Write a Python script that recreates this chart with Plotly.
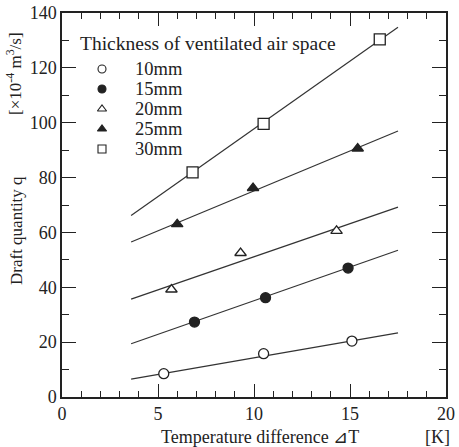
import plotly.graph_objects as go

series_names = ["10mm", "15mm", "20mm", "25mm", "30mm"]
pts_x = [
    [5.3, 10.5, 15.1],
    [6.9, 10.6, 14.9],
    [5.7, 9.3, 14.3],
    [6.0, 9.95, 15.4],
    [6.8, 10.5, 16.55],
]
pts_y = [
    [8.5, 15.8, 20.4],
    [27.3, 36.2, 47.0],
    [39.2, 52.5, 60.6],
    [63.0, 76.2, 90.6],
    [81.9, 99.6, 130.4],
]
line_x = [3.6, 17.5]
line_y = [
    [6.5, 23.4],
    [19.4, 53.5],
    [35.7, 69.2],
    [56.5, 97.0],
    [66.2, 134.8],
]
symbols = ["circle-open", "circle", "triangle-up-open", "triangle-up", "square-open"]
legend_title = "Thickness of ventilated air space"
x_ticks = [0, 5, 10, 15, 20]
y_ticks = [0, 20, 40, 60, 80, 100, 120, 140]

INK = "#222222"
FONT = "Liberation Serif, Times New Roman, serif"

W, H = 459, 447
PL, PR, PT, PB = 62, 446, 13, 397  # plot box in page pixels


def px(x):
    return (x - PL) / (PR - PL)


def py(y):
    return (PB - y) / (PB - PT)


def fill_of(sym):
    return "white" if "open" in sym else INK


def solid(sym):
    return sym.replace("-open", "")


fig = go.Figure()
for i, name in enumerate(series_names):
    fig.add_trace(go.Scatter(x=line_x, y=line_y[i], mode="lines",
                             line=dict(color="#333333", width=1.2),
                             showlegend=False, hoverinfo="skip"))
for i, name in enumerate(series_names):
    sym = symbols[i]
    fig.add_trace(go.Scatter(
        x=pts_x[i], y=pts_y[i], mode="markers", name=name, showlegend=False,
        marker=dict(symbol=solid(sym), size=11 if "square" in sym else 10,
                    color=fill_of(sym), line=dict(color=INK, width=1.3)),
    ))

# hand-made legend on an overlay axis measured in page pixels
row_y = [69 + 20 * i for i in range(len(series_names))]
sym_x = 102
text_x = 133
for i, name in enumerate(series_names):
    sym = symbols[i]
    fig.add_trace(go.Scatter(
        x=[sym_x], y=[row_y[i]], xaxis="x2", yaxis="y2", mode="markers",
        showlegend=False, hoverinfo="skip",
        marker=dict(symbol=solid(sym), size=8,
                    color=fill_of(sym), line=dict(color=INK, width=1.1)),
    ))

annotations = [
    dict(text=legend_title, xref="paper", yref="paper", x=px(78), y=py(43),
         xanchor="left", yanchor="middle", showarrow=False, font=dict(size=19.5)),
]
for i, name in enumerate(series_names):
    annotations.append(dict(text=name, xref="paper", yref="paper",
                            x=px(text_x), y=py(row_y[i]),
                            xanchor="left", yanchor="middle", showarrow=False,
                            font=dict(size=18.5)))
annotations += [
    dict(text="Temperature difference ⊿T", xref="paper", yref="paper",
         x=px(260), y=py(437), xanchor="center", yanchor="middle", showarrow=False,
         font=dict(size=18)),
    dict(text="[K]", xref="paper", yref="paper",
         x=px(437), y=py(437), xanchor="center", yanchor="middle", showarrow=False,
         font=dict(size=18)),
    dict(text="Draft quantity q", xref="paper", yref="paper",
         x=px(17), y=py(231), xanchor="center", yanchor="middle", showarrow=False,
         textangle=-90, font=dict(size=17)),
    dict(text="[×10<sup>-4</sup> m<sup>3</sup>/s]", xref="paper", yref="paper",
         x=px(14), y=py(74), xanchor="center", yanchor="middle", showarrow=False,
         textangle=-90, font=dict(size=17)),
]

fig.update_layout(
    width=W, height=H,
    margin=dict(l=PL, r=W - PR, t=PT, b=H - PB),
    paper_bgcolor="white", plot_bgcolor="white",
    font=dict(family=FONT, color=INK, size=17),
    showlegend=False,
    xaxis=dict(range=[0, 20], tickvals=x_ticks, ticks="inside", ticklen=13,
               tickwidth=1.2, tickcolor=INK, showline=True, linecolor=INK,
               linewidth=1.5, mirror="ticks", showgrid=False, zeroline=False,
               automargin=False, ticklabeloverflow="allow",
               minor=dict(dtick=1, ticks="inside", ticklen=6, tickcolor=INK, tickwidth=1),
               tickfont=dict(size=18)),
    yaxis=dict(range=[0, 140], tickvals=y_ticks, ticks="inside", ticklen=14,
               tickwidth=1.2, tickcolor=INK, showline=True, linecolor=INK,
               linewidth=1.5, mirror="ticks", showgrid=False, zeroline=False,
               automargin=False, ticklabeloverflow="allow",
               minor=dict(dtick=10, ticks="inside", ticklen=7, tickcolor=INK, tickwidth=1),
               tickfont=dict(size=18), ticklabelstandoff=0),
    xaxis2=dict(overlaying="x", anchor="y2", range=[PL, PR], visible=False,
                fixedrange=True),
    yaxis2=dict(overlaying="y", anchor="x2", range=[PB, PT], visible=False,
                fixedrange=True),
    annotations=annotations,
)

fig.write_html("out.html",
               config={"displayModeBar": False},
               post_script="document.body.style.margin='0';"
                           "document.body.style.overflow='hidden';")
